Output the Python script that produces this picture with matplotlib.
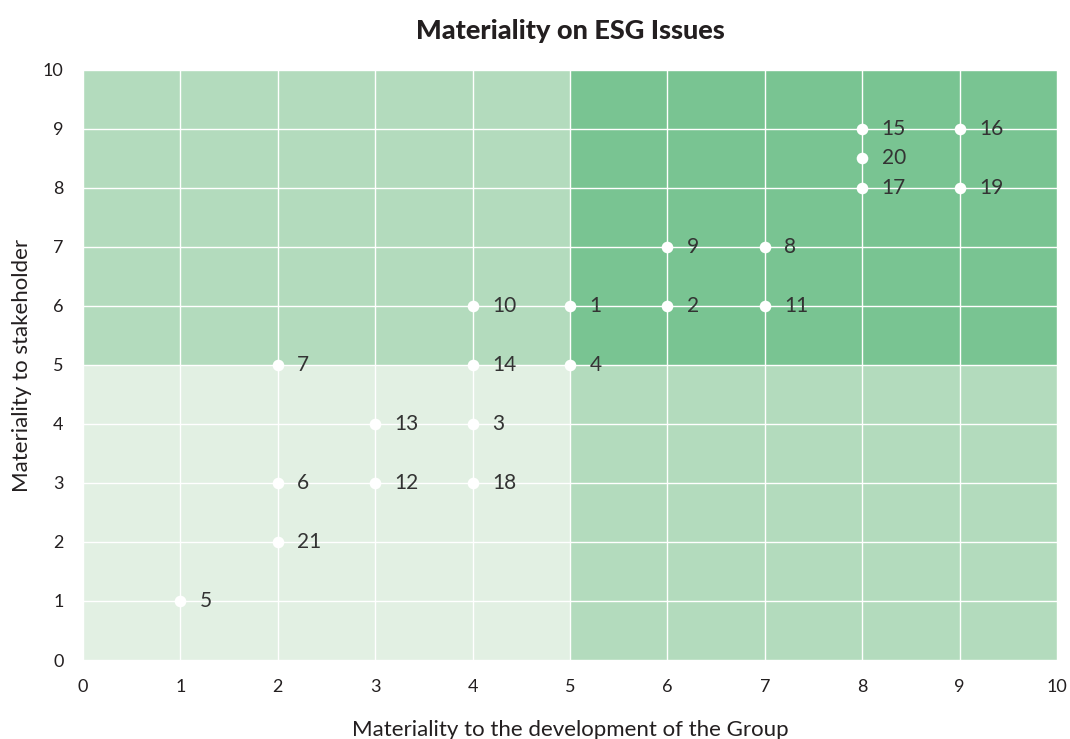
import numpy as np
import matplotlib
matplotlib.use('Agg')
import matplotlib.pyplot as plt
from matplotlib.patches import Rectangle

plt.rcParams['font.family'] = ['Lato', 'DejaVu Sans']

# issue number, x = materiality to the Group, y = materiality to stakeholder
issue_ids = [1, 2, 3, 4, 5, 6, 7, 8, 9, 10, 11, 12, 13, 14, 15, 16, 17, 18, 19, 20, 21]
group_score = [5, 6, 4, 5, 1, 2, 2, 7, 6, 4, 7, 3, 3, 4, 8, 9, 8, 4, 9, 8, 2]
stakeholder_score = [6, 6, 4, 5, 1, 3, 5, 7, 7, 6, 6, 3, 4, 5, 9, 9, 8, 3, 8, 8.5, 2]

ticks = np.arange(0, 11, 1)
split = 5

fig = plt.figure(figsize=(10.7, 7.39), dpi=100)
ax = fig.add_axes([0.0776, 0.1069, 0.9103, 0.7984])

# quadrant shading
light, mid, dark = '#e2f0e3', '#b3dbbd', '#79c492'
ax.add_patch(Rectangle((0, 0), split, split, color=light, zorder=0, lw=0))
ax.add_patch(Rectangle((split, 0), 10 - split, split, color=mid, zorder=0, lw=0))
ax.add_patch(Rectangle((0, split), split, 10 - split, color=mid, zorder=0, lw=0))
ax.add_patch(Rectangle((split, split), 10 - split, 10 - split, color=dark, zorder=0, lw=0))

ax.set_xlim(0, 10)
ax.set_ylim(0, 10)
ax.set_xticks(ticks)
ax.set_yticks(ticks)
ax.grid(True, color='white', linewidth=1.0, zorder=1)
ax.set_axisbelow(True)
for s in ax.spines.values():
    s.set_visible(False)
ax.tick_params(length=0, pad=14, labelsize=13, labelcolor='#231f20')

ax.scatter(group_score, stakeholder_score, s=70, color='white', zorder=3, linewidths=0)
for n, x, y in zip(issue_ids, group_score, stakeholder_score):
    ax.annotate(str(n), (x, y), xytext=(14, 0), textcoords='offset points',
                va='center', ha='left', fontsize=15, color='#333333', zorder=4)

ax.set_xlabel('Materiality to the development of the Group', fontsize=16,
              color='#231f20', labelpad=18)
ax.set_ylabel('Materiality to stakeholder', fontsize=16, color='#231f20', labelpad=8)
ax.set_title('Materiality on ESG Issues', fontsize=19.5, fontweight='black',
             color='#231f20', pad=22)

fig.savefig('out.png', dpi=100)
